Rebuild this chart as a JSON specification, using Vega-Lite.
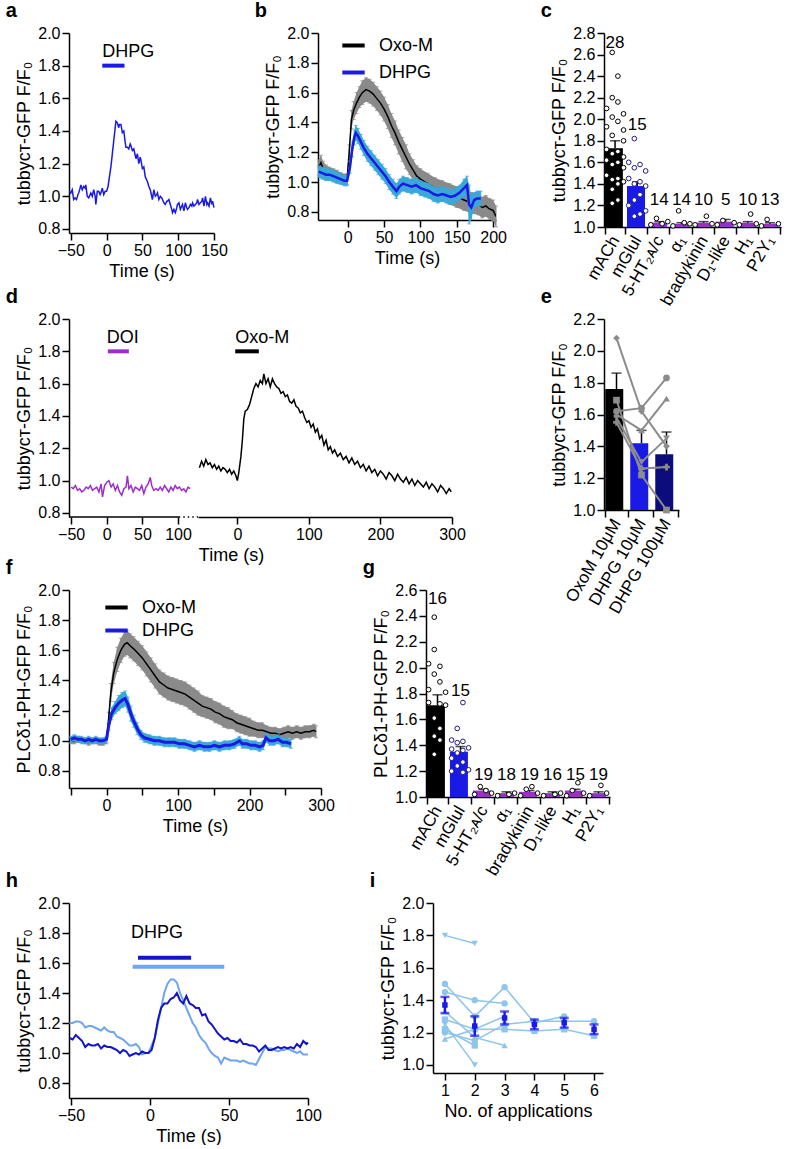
{
"$schema": "https://vega.github.io/schema/vega-lite/v6.json",
"padding": {"left": 5, "top": 1, "right": 0, "bottom": 0},
"background": "white",
"config": {
 "font": "Liberation Sans",
 "view": {"stroke": null},
 "axis": {"domainColor": "black", "domainWidth": 1.5, "tickColor": "black", "tickWidth": 1.5, "tickSize": 7, "labelColor": "black", "labelFontSize": 16, "labelPadding": 2, "titleColor": "black", "titleFontSize": 18, "titleFontWeight": "normal", "titlePadding": 4, "grid": false, "labelFlush": false, "labelOverlap": false},
 "title": {"fontSize": 20, "fontWeight": "bold", "anchor": "start", "frame": "bounds", "dx": -10, "offset": 4, "baseline": "bottom", "color": "black"},
 "legend": {"labelFontSize": 18, "labelColor": "black", "padding": 0},
 "text": {"color": "black"}
},
"datasets": {
 "a_tr": [{"t":-52,"v":1.03},{"t":-50,"v":1.02},{"t":-48,"v":1.04},{"t":-46,"v":0.98},{"t":-44,"v":0.99},{"t":-42,"v":0.98},{"t":-40,"v":1.01},{"t":-39,"v":1.02},{"t":-37,"v":1.05},{"t":-36,"v":1.07},{"t":-34,"v":1.04},{"t":-32,"v":1.06},{"t":-30,"v":1.05},{"t":-29,"v":1.07},{"t":-27,"v":1.0},{"t":-25,"v":0.99},{"t":-23,"v":1.01},{"t":-22,"v":1.02},{"t":-20,"v":1.0},{"t":-18,"v":1.04},{"t":-16,"v":1.0},{"t":-15,"v":0.95},{"t":-13,"v":1.03},{"t":-11,"v":1.03},{"t":-9,"v":1.01},{"t":-8,"v":1.02},{"t":-6,"v":1.05},{"t":-4,"v":1.01},{"t":-2,"v":1.03},{"t":0,"v":1.03},{"t":2,"v":1.06},{"t":4,"v":1.12},{"t":6,"v":1.18},{"t":8,"v":1.26},{"t":10,"v":1.34},{"t":12,"v":1.42},{"t":13,"v":1.46},{"t":15,"v":1.45},{"t":17,"v":1.42},{"t":18,"v":1.44},{"t":20,"v":1.44},{"t":22,"v":1.39},{"t":24,"v":1.4},{"t":26,"v":1.33},{"t":27,"v":1.3},{"t":29,"v":1.3},{"t":31,"v":1.29},{"t":33,"v":1.32},{"t":34,"v":1.31},{"t":36,"v":1.28},{"t":38,"v":1.29},{"t":40,"v":1.25},{"t":41,"v":1.23},{"t":43,"v":1.26},{"t":45,"v":1.2},{"t":47,"v":1.24},{"t":48,"v":1.22},{"t":50,"v":1.17},{"t":52,"v":1.18},{"t":54,"v":1.12},{"t":56,"v":1.1},{"t":57,"v":1.09},{"t":59,"v":1.06},{"t":61,"v":1.04},{"t":63,"v":1.0},{"t":64,"v":0.98},{"t":66,"v":1.04},{"t":68,"v":1.0},{"t":70,"v":1.01},{"t":71,"v":1.02},{"t":73,"v":0.98},{"t":75,"v":1.0},{"t":77,"v":0.99},{"t":78,"v":0.98},{"t":80,"v":0.96},{"t":82,"v":0.95},{"t":84,"v":0.97},{"t":85,"v":0.97},{"t":87,"v":0.98},{"t":89,"v":0.95},{"t":91,"v":0.92},{"t":92,"v":0.9},{"t":94,"v":0.92},{"t":96,"v":0.9},{"t":98,"v":0.93},{"t":99,"v":0.95},{"t":101,"v":0.96},{"t":103,"v":0.92},{"t":105,"v":0.94},{"t":106,"v":0.95},{"t":108,"v":0.91},{"t":110,"v":0.96},{"t":112,"v":0.93},{"t":113,"v":0.92},{"t":115,"v":0.93},{"t":117,"v":0.95},{"t":119,"v":0.94},{"t":120,"v":0.96},{"t":122,"v":0.94},{"t":124,"v":0.95},{"t":126,"v":0.96},{"t":127,"v":0.98},{"t":129,"v":0.95},{"t":131,"v":0.96},{"t":133,"v":0.97},{"t":134,"v":0.99},{"t":136,"v":0.94},{"t":138,"v":1.0},{"t":140,"v":0.95},{"t":141,"v":0.96},{"t":143,"v":0.94},{"t":145,"v":0.99},{"t":147,"v":0.95},{"t":148,"v":0.97},{"t":150,"v":0.93}],
 "a_bar": [{"t1":-6,"t2":25,"v":1.8}],
 "a_lab": [{"t":-6,"v":1.85,"s":"DHPG"}],
 "b_oxo": [{"t":-40,"m":1.1,"e":0.05},{"t":-37,"m":1.13,"e":0.05},{"t":-34,"m":1.09,"e":0.05},{"t":-30,"m":1.07,"e":0.045},{"t":-25,"m":1.06,"e":0.04},{"t":-20,"m":1.05,"e":0.04},{"t":-15,"m":1.04,"e":0.04},{"t":-10,"m":1.03,"e":0.035},{"t":-5,"m":1.02,"e":0.035},{"t":-1,"m":1.02,"e":0.035},{"t":2,"m":1.2,"e":0.05},{"t":5,"m":1.42,"e":0.06},{"t":8,"m":1.48,"e":0.06},{"t":12,"m":1.53,"e":0.07},{"t":16,"m":1.57,"e":0.07},{"t":20,"m":1.6,"e":0.08},{"t":25,"m":1.62,"e":0.08},{"t":30,"m":1.61,"e":0.08},{"t":35,"m":1.59,"e":0.08},{"t":40,"m":1.56,"e":0.08},{"t":45,"m":1.53,"e":0.08},{"t":50,"m":1.49,"e":0.08},{"t":55,"m":1.44,"e":0.08},{"t":60,"m":1.38,"e":0.08},{"t":65,"m":1.33,"e":0.08},{"t":70,"m":1.27,"e":0.08},{"t":75,"m":1.22,"e":0.08},{"t":80,"m":1.17,"e":0.08},{"t":85,"m":1.12,"e":0.07},{"t":90,"m":1.08,"e":0.07},{"t":95,"m":1.04,"e":0.07},{"t":100,"m":1.02,"e":0.07},{"t":110,"m":0.99,"e":0.07},{"t":120,"m":0.96,"e":0.07},{"t":130,"m":0.94,"e":0.07},{"t":140,"m":0.92,"e":0.07},{"t":150,"m":0.9,"e":0.07},{"t":160,"m":0.88,"e":0.07},{"t":170,"m":0.86,"e":0.07},{"t":180,"m":0.85,"e":0.07},{"t":185,"m":0.83,"e":0.07},{"t":190,"m":0.84,"e":0.07},{"t":195,"m":0.82,"e":0.07},{"t":200,"m":0.81,"e":0.07},{"t":204,"m":0.77,"e":0.07}],
 "b_dhpg": [{"t":-40,"m":1.07,"e":0.04},{"t":-35,"m":1.06,"e":0.04},{"t":-30,"m":1.05,"e":0.04},{"t":-25,"m":1.05,"e":0.04},{"t":-20,"m":1.04,"e":0.04},{"t":-15,"m":1.03,"e":0.04},{"t":-10,"m":1.02,"e":0.035},{"t":-5,"m":1.01,"e":0.035},{"t":-1,"m":1.01,"e":0.035},{"t":3,"m":1.1,"e":0.04},{"t":6,"m":1.22,"e":0.05},{"t":9,"m":1.3,"e":0.05},{"t":11,"m":1.33,"e":0.05},{"t":14,"m":1.31,"e":0.05},{"t":18,"m":1.27,"e":0.05},{"t":22,"m":1.23,"e":0.05},{"t":27,"m":1.19,"e":0.05},{"t":32,"m":1.16,"e":0.05},{"t":37,"m":1.13,"e":0.05},{"t":42,"m":1.1,"e":0.05},{"t":47,"m":1.07,"e":0.05},{"t":52,"m":1.04,"e":0.05},{"t":57,"m":1.0,"e":0.05},{"t":62,"m":0.97,"e":0.05},{"t":67,"m":0.94,"e":0.05},{"t":71,"m":0.97,"e":0.05},{"t":76,"m":0.99,"e":0.05},{"t":82,"m":0.98,"e":0.05},{"t":88,"m":0.97,"e":0.05},{"t":94,"m":0.98,"e":0.05},{"t":100,"m":0.96,"e":0.05},{"t":106,"m":0.95,"e":0.05},{"t":112,"m":0.94,"e":0.05},{"t":118,"m":0.92,"e":0.05},{"t":124,"m":0.91,"e":0.05},{"t":130,"m":0.92,"e":0.05},{"t":136,"m":0.91,"e":0.05},{"t":142,"m":0.9,"e":0.05},{"t":148,"m":0.91,"e":0.05},{"t":154,"m":0.93,"e":0.05},{"t":160,"m":0.96,"e":0.06},{"t":164,"m":0.98,"e":0.06},{"t":167,"m":0.85,"e":0.13},{"t":170,"m":0.83,"e":0.08},{"t":174,"m":0.88,"e":0.05},{"t":178,"m":0.89,"e":0.05},{"t":183,"m":0.89,"e":0.05}],
 "c_bar": [{"cat":"mACh","m":1.73,"hi":1.8},{"cat":"mGlul","m":1.38,"hi":1.42},{"cat":"5-HT₂ᴀ/ᴄ","m":1.04,"hi":1.05},{"cat":"α₁","m":1.03,"hi":1.04},{"cat":"bradykinin","m":1.04,"hi":1.05},{"cat":"D₁-like","m":1.05,"hi":1.07},{"cat":"H₁","m":1.04,"hi":1.05},{"cat":"P2Y₁","m":1.03,"hi":1.04}],
 "c_pts": [{"cat":"mACh","v":2.62,"j":1},{"cat":"mACh","v":2.4,"j":2},{"cat":"mACh","v":2.2,"j":1},{"cat":"mACh","v":2.16,"j":2},{"cat":"mACh","v":2.1,"j":0},{"cat":"mACh","v":2.05,"j":3},{"cat":"mACh","v":2.02,"j":1},{"cat":"mACh","v":1.98,"j":2},{"cat":"mACh","v":1.93,"j":0},{"cat":"mACh","v":1.9,"j":3},{"cat":"mACh","v":1.85,"j":1},{"cat":"mACh","v":1.8,"j":3},{"cat":"mACh","v":1.72,"j":0},{"cat":"mACh","v":1.7,"j":2},{"cat":"mACh","v":1.68,"j":1},{"cat":"mACh","v":1.65,"j":3},{"cat":"mACh","v":1.62,"j":0},{"cat":"mACh","v":1.6,"j":2},{"cat":"mACh","v":1.58,"j":1},{"cat":"mACh","v":1.55,"j":3},{"cat":"mACh","v":1.48,"j":0},{"cat":"mACh","v":1.45,"j":2},{"cat":"mACh","v":1.44,"j":1},{"cat":"mACh","v":1.42,"j":3},{"cat":"mACh","v":1.4,"j":2},{"cat":"mACh","v":1.35,"j":1},{"cat":"mACh","v":1.25,"j":2},{"cat":"mACh","v":1.22,"j":1},
  {"cat":"mGlul","v":1.82,"j":1},{"cat":"mGlul","v":1.6,"j":0},{"cat":"mGlul","v":1.58,"j":2},{"cat":"mGlul","v":1.55,"j":1},{"cat":"mGlul","v":1.52,"j":3},{"cat":"mGlul","v":1.45,"j":0},{"cat":"mGlul","v":1.42,"j":2},{"cat":"mGlul","v":1.4,"j":1},{"cat":"mGlul","v":1.38,"j":3},{"cat":"mGlul","v":1.3,"j":2},{"cat":"mGlul","v":1.25,"j":1},{"cat":"mGlul","v":1.2,"j":0},{"cat":"mGlul","v":1.15,"j":3},{"cat":"mGlul","v":1.12,"j":2},{"cat":"mGlul","v":1.1,"j":1},
  {"cat":"5-HT₂ᴀ/ᴄ","v":1.02,"j":0},{"cat":"5-HT₂ᴀ/ᴄ","v":1.03,"j":2},{"cat":"5-HT₂ᴀ/ᴄ","v":1.05,"j":3},{"cat":"5-HT₂ᴀ/ᴄ","v":1.08,"j":1},
  {"cat":"α₁","v":1.01,"j":0},{"cat":"α₁","v":1.03,"j":3},{"cat":"α₁","v":1.04,"j":2},{"cat":"α₁","v":1.15,"j":1},
  {"cat":"bradykinin","v":1.02,"j":0},{"cat":"bradykinin","v":1.03,"j":3},{"cat":"bradykinin","v":1.1,"j":2},
  {"cat":"D₁-like","v":1.02,"j":0},{"cat":"D₁-like","v":1.04,"j":3},{"cat":"D₁-like","v":1.06,"j":1},
  {"cat":"H₁","v":1.02,"j":0},{"cat":"H₁","v":1.03,"j":3},{"cat":"H₁","v":1.12,"j":2},
  {"cat":"P2Y₁","v":1.01,"j":0},{"cat":"P2Y₁","v":1.03,"j":3},{"cat":"P2Y₁","v":1.07,"j":1}],
 "c_n": [{"cat":"mACh","n":"28","v":2.66},{"cat":"mGlul","n":"15","v":1.9},{"cat":"5-HT₂ᴀ/ᴄ","n":"14","v":1.2},{"cat":"α₁","n":"14","v":1.2},{"cat":"bradykinin","n":"10","v":1.2},{"cat":"D₁-like","n":"5","v":1.2},{"cat":"H₁","n":"10","v":1.2},{"cat":"P2Y₁","n":"13","v":1.2}],
 "d1_tr": [{"t":-50,"v":0.96},{"t":-47,"v":0.95},{"t":-44,"v":0.97},{"t":-41,"v":0.94},{"t":-38,"v":0.95},{"t":-35,"v":0.93},{"t":-32,"v":0.94},{"t":-29,"v":0.96},{"t":-26,"v":0.95},{"t":-23,"v":0.97},{"t":-20,"v":0.94},{"t":-17,"v":0.95},{"t":-14,"v":0.96},{"t":-11,"v":0.93},{"t":-8,"v":0.98},{"t":-6,"v":0.9},{"t":-3,"v":0.97},{"t":0,"v":0.99},{"t":3,"v":1.0},{"t":6,"v":0.96},{"t":9,"v":0.98},{"t":12,"v":0.94},{"t":15,"v":0.97},{"t":18,"v":0.93},{"t":21,"v":0.91},{"t":24,"v":0.95},{"t":27,"v":0.96},{"t":29,"v":1.03},{"t":31,"v":0.95},{"t":34,"v":0.97},{"t":37,"v":0.93},{"t":40,"v":0.96},{"t":43,"v":0.95},{"t":46,"v":0.94},{"t":49,"v":0.97},{"t":52,"v":0.92},{"t":55,"v":0.96},{"t":58,"v":0.98},{"t":61,"v":1.02},{"t":63,"v":0.97},{"t":66,"v":0.94},{"t":69,"v":0.95},{"t":72,"v":0.94},{"t":75,"v":0.96},{"t":78,"v":0.94},{"t":81,"v":0.97},{"t":84,"v":0.95},{"t":87,"v":0.93},{"t":90,"v":0.96},{"t":93,"v":0.94},{"t":96,"v":0.97},{"t":99,"v":0.95},{"t":102,"v":0.96},{"t":105,"v":0.94},{"t":108,"v":0.95},{"t":111,"v":0.93},{"t":114,"v":0.96},{"t":117,"v":0.95}],
 "d1_ax": [{"t1":-53,"t2":101,"t3":128,"v":0.775}],
 "d1_bar": [{"t1":1.5,"t2":31,"v":1.8}],
 "d1_lab": [{"t":0,"v":1.85,"s":"DOI"}],
 "d2_tr": [{"t":-53,"v":1.08},{"t":-50,"v":1.12},{"t":-47,"v":1.09},{"t":-44,"v":1.13},{"t":-41,"v":1.1},{"t":-38,"v":1.11},{"t":-35,"v":1.08},{"t":-32,"v":1.1},{"t":-29,"v":1.07},{"t":-26,"v":1.09},{"t":-23,"v":1.06},{"t":-20,"v":1.08},{"t":-17,"v":1.07},{"t":-14,"v":1.05},{"t":-11,"v":1.07},{"t":-8,"v":1.04},{"t":-5,"v":1.06},{"t":-2,"v":1.03},{"t":0,"v":1.0},{"t":2,"v":1.05},{"t":5,"v":1.15},{"t":7,"v":1.25},{"t":9,"v":1.38},{"t":11,"v":1.43},{"t":14,"v":1.44},{"t":17,"v":1.47},{"t":20,"v":1.52},{"t":23,"v":1.57},{"t":26,"v":1.6},{"t":29,"v":1.58},{"t":32,"v":1.62},{"t":35,"v":1.6},{"t":37,"v":1.66},{"t":40,"v":1.6},{"t":43,"v":1.63},{"t":46,"v":1.58},{"t":49,"v":1.63},{"t":52,"v":1.6},{"t":55,"v":1.58},{"t":58,"v":1.57},{"t":61,"v":1.54},{"t":64,"v":1.55},{"t":67,"v":1.52},{"t":70,"v":1.53},{"t":73,"v":1.49},{"t":76,"v":1.48},{"t":79,"v":1.5},{"t":82,"v":1.46},{"t":85,"v":1.45},{"t":88,"v":1.42},{"t":91,"v":1.43},{"t":94,"v":1.39},{"t":97,"v":1.36},{"t":100,"v":1.37},{"t":103,"v":1.33},{"t":106,"v":1.35},{"t":109,"v":1.3},{"t":112,"v":1.32},{"t":115,"v":1.26},{"t":118,"v":1.28},{"t":121,"v":1.22},{"t":124,"v":1.25},{"t":127,"v":1.19},{"t":130,"v":1.21},{"t":133,"v":1.17},{"t":136,"v":1.19},{"t":140,"v":1.15},{"t":144,"v":1.17},{"t":148,"v":1.13},{"t":152,"v":1.15},{"t":156,"v":1.11},{"t":160,"v":1.14},{"t":164,"v":1.1},{"t":168,"v":1.12},{"t":172,"v":1.08},{"t":176,"v":1.1},{"t":180,"v":1.06},{"t":184,"v":1.09},{"t":188,"v":1.05},{"t":192,"v":1.07},{"t":196,"v":1.03},{"t":200,"v":1.06},{"t":204,"v":1.04},{"t":208,"v":1.01},{"t":212,"v":1.05},{"t":216,"v":1.03},{"t":220,"v":1.0},{"t":224,"v":1.04},{"t":228,"v":1.01},{"t":232,"v":0.99},{"t":236,"v":1.02},{"t":240,"v":0.98},{"t":244,"v":1.01},{"t":248,"v":0.97},{"t":252,"v":1.0},{"t":256,"v":0.98},{"t":260,"v":0.96},{"t":264,"v":0.99},{"t":268,"v":0.95},{"t":272,"v":0.98},{"t":276,"v":0.96},{"t":280,"v":0.93},{"t":284,"v":0.97},{"t":288,"v":0.95},{"t":292,"v":0.92},{"t":296,"v":0.95},{"t":299,"v":0.93}],
 "d2_bar": [{"t1":-3,"t2":30,"v":1.8}],
 "d2_lab": [{"t":-3,"v":1.85,"s":"Oxo-M"}],
 "e_bar": [{"cond":"OxoM 10μM","m":1.76,"hi":1.86},{"cond":"DHPG 10μM","m":1.42,"hi":1.5},{"cond":"DHPG 100μM","m":1.35,"hi":1.49}],
 "e_cells": [{"cell":"c1","k":1,"cond":"OxoM 10μM","v":2.08},{"cell":"c1","k":2,"cond":"DHPG 10μM","v":1.62},{"cell":"c1","k":3,"cond":"DHPG 100μM","v":1.4},
  {"cell":"c2","k":1,"cond":"OxoM 10μM","v":1.69},{"cell":"c2","k":2,"cond":"DHPG 10μM","v":1.22},{"cell":"c2","k":3,"cond":"DHPG 100μM","v":1.0},
  {"cell":"c3","k":1,"cond":"OxoM 10μM","v":1.62},{"cell":"c3","k":2,"cond":"DHPG 10μM","v":1.64},{"cell":"c3","k":3,"cond":"DHPG 100μM","v":1.83},
  {"cell":"c4","k":1,"cond":"OxoM 10μM","v":1.6},{"cell":"c4","k":2,"cond":"DHPG 10μM","v":1.5},{"cell":"c4","k":3,"cond":"DHPG 100μM","v":1.7},
  {"cell":"c5","k":1,"cond":"OxoM 10μM","v":1.58},{"cell":"c5","k":2,"cond":"DHPG 10μM","v":1.3},{"cell":"c5","k":3,"cond":"DHPG 100μM","v":1.45},
  {"cell":"c6","k":1,"cond":"OxoM 10μM","v":1.55},{"cell":"c6","k":2,"cond":"DHPG 10μM","v":1.26},{"cell":"c6","k":3,"cond":"DHPG 100μM","v":1.27}],
 "f_oxo": [{"t":-50,"m":1.0,"e":0.02},{"t":-45,"m":1.0,"e":0.02},{"t":-40,"m":1.01,"e":0.02},{"t":-35,"m":1.0,"e":0.02},{"t":-30,"m":1.0,"e":0.02},{"t":-25,"m":0.99,"e":0.02},{"t":-20,"m":1.0,"e":0.02},{"t":-15,"m":1.0,"e":0.02},{"t":-10,"m":0.99,"e":0.02},{"t":-5,"m":0.99,"e":0.02},{"t":0,"m":1.0,"e":0.02},{"t":3,"m":1.15,"e":0.04},{"t":6,"m":1.32,"e":0.06},{"t":10,"m":1.45,"e":0.07},{"t":15,"m":1.54,"e":0.08},{"t":20,"m":1.6,"e":0.08},{"t":25,"m":1.64,"e":0.08},{"t":29,"m":1.65,"e":0.08},{"t":33,"m":1.63,"e":0.08},{"t":38,"m":1.61,"e":0.08},{"t":44,"m":1.58,"e":0.08},{"t":50,"m":1.55,"e":0.08},{"t":56,"m":1.51,"e":0.08},{"t":62,"m":1.47,"e":0.08},{"t":68,"m":1.43,"e":0.08},{"t":74,"m":1.39,"e":0.08},{"t":80,"m":1.37,"e":0.08},{"t":86,"m":1.35,"e":0.08},{"t":92,"m":1.34,"e":0.08},{"t":98,"m":1.33,"e":0.08},{"t":104,"m":1.32,"e":0.08},{"t":110,"m":1.31,"e":0.08},{"t":116,"m":1.29,"e":0.08},{"t":122,"m":1.27,"e":0.08},{"t":128,"m":1.25,"e":0.08},{"t":134,"m":1.23,"e":0.07},{"t":140,"m":1.22,"e":0.07},{"t":146,"m":1.21,"e":0.07},{"t":152,"m":1.19,"e":0.07},{"t":158,"m":1.18,"e":0.07},{"t":164,"m":1.16,"e":0.07},{"t":170,"m":1.15,"e":0.07},{"t":176,"m":1.14,"e":0.06},{"t":182,"m":1.12,"e":0.06},{"t":188,"m":1.11,"e":0.06},{"t":194,"m":1.1,"e":0.06},{"t":200,"m":1.09,"e":0.06},{"t":206,"m":1.08,"e":0.05},{"t":212,"m":1.07,"e":0.05},{"t":218,"m":1.07,"e":0.05},{"t":224,"m":1.06,"e":0.04},{"t":230,"m":1.05,"e":0.04},{"t":236,"m":1.05,"e":0.04},{"t":242,"m":1.04,"e":0.04},{"t":248,"m":1.05,"e":0.04},{"t":254,"m":1.06,"e":0.04},{"t":260,"m":1.05,"e":0.04},{"t":266,"m":1.06,"e":0.04},{"t":272,"m":1.05,"e":0.04},{"t":278,"m":1.06,"e":0.04},{"t":284,"m":1.06,"e":0.04},{"t":290,"m":1.07,"e":0.04},{"t":293,"m":1.06,"e":0.04}],
 "f_dhpg": [{"t":-50,"m":1.01,"e":0.02},{"t":-45,"m":1.02,"e":0.02},{"t":-40,"m":1.01,"e":0.02},{"t":-35,"m":1.01,"e":0.02},{"t":-30,"m":1.0,"e":0.02},{"t":-25,"m":1.01,"e":0.02},{"t":-20,"m":1.0,"e":0.02},{"t":-15,"m":1.01,"e":0.02},{"t":-10,"m":1.0,"e":0.02},{"t":-5,"m":1.0,"e":0.02},{"t":0,"m":1.01,"e":0.02},{"t":3,"m":1.1,"e":0.03},{"t":7,"m":1.18,"e":0.04},{"t":12,"m":1.22,"e":0.04},{"t":17,"m":1.25,"e":0.05},{"t":22,"m":1.27,"e":0.05},{"t":26,"m":1.28,"e":0.05},{"t":30,"m":1.24,"e":0.05},{"t":34,"m":1.18,"e":0.05},{"t":38,"m":1.13,"e":0.04},{"t":43,"m":1.08,"e":0.04},{"t":48,"m":1.04,"e":0.03},{"t":53,"m":1.02,"e":0.03},{"t":60,"m":1.01,"e":0.03},{"t":67,"m":1.0,"e":0.03},{"t":74,"m":1.0,"e":0.03},{"t":81,"m":0.99,"e":0.03},{"t":88,"m":0.99,"e":0.03},{"t":95,"m":0.99,"e":0.03},{"t":102,"m":0.98,"e":0.03},{"t":109,"m":0.98,"e":0.03},{"t":116,"m":0.97,"e":0.03},{"t":123,"m":0.96,"e":0.03},{"t":130,"m":0.97,"e":0.03},{"t":137,"m":0.96,"e":0.03},{"t":144,"m":0.96,"e":0.03},{"t":151,"m":0.97,"e":0.03},{"t":158,"m":0.96,"e":0.03},{"t":165,"m":0.97,"e":0.03},{"t":172,"m":0.97,"e":0.03},{"t":179,"m":0.98,"e":0.03},{"t":186,"m":1.0,"e":0.03},{"t":190,"m":0.98,"e":0.03},{"t":196,"m":0.98,"e":0.03},{"t":202,"m":0.97,"e":0.03},{"t":208,"m":0.97,"e":0.03},{"t":214,"m":0.96,"e":0.03},{"t":219,"m":0.97,"e":0.03},{"t":223,"m":1.02,"e":0.03},{"t":228,"m":1.0,"e":0.03},{"t":234,"m":1.0,"e":0.03},{"t":240,"m":1.01,"e":0.03},{"t":246,"m":0.99,"e":0.03},{"t":252,"m":0.99,"e":0.03},{"t":258,"m":0.98,"e":0.03}],
 "g_bar": [{"cat":"mACh","m":1.71,"hi":1.79},{"cat":"mGlul","m":1.35,"hi":1.39},{"cat":"5-HT₂ᴀ/ᴄ","m":1.05,"hi":1.06},{"cat":"α₁","m":1.03,"hi":1.04},{"cat":"bradykinin","m":1.04,"hi":1.05},{"cat":"D₁-like","m":1.03,"hi":1.04},{"cat":"H₁","m":1.05,"hi":1.06},{"cat":"P2Y₁","m":1.03,"hi":1.04}],
 "g_pts": [{"cat":"mACh","v":2.39,"j":1},{"cat":"mACh","v":2.14,"j":1},{"cat":"mACh","v":2.03,"j":0},{"cat":"mACh","v":2.01,"j":2},{"cat":"mACh","v":1.95,"j":1},{"cat":"mACh","v":1.89,"j":2},{"cat":"mACh","v":1.83,"j":0},{"cat":"mACh","v":1.81,"j":3},{"cat":"mACh","v":1.73,"j":0},{"cat":"mACh","v":1.72,"j":2},{"cat":"mACh","v":1.71,"j":3},{"cat":"mACh","v":1.61,"j":1},{"cat":"mACh","v":1.53,"j":2},{"cat":"mACh","v":1.47,"j":1},{"cat":"mACh","v":1.44,"j":2},{"cat":"mACh","v":1.33,"j":1},
  {"cat":"mGlul","v":1.73,"j":2},{"cat":"mGlul","v":1.53,"j":1},{"cat":"mGlul","v":1.44,"j":0},{"cat":"mGlul","v":1.43,"j":2},{"cat":"mGlul","v":1.42,"j":1},{"cat":"mGlul","v":1.38,"j":3},{"cat":"mGlul","v":1.37,"j":0},{"cat":"mGlul","v":1.36,"j":2},{"cat":"mGlul","v":1.34,"j":1},{"cat":"mGlul","v":1.3,"j":0},{"cat":"mGlul","v":1.27,"j":2},{"cat":"mGlul","v":1.24,"j":1},{"cat":"mGlul","v":1.21,"j":3},{"cat":"mGlul","v":1.2,"j":0},{"cat":"mGlul","v":1.19,"j":2},
  {"cat":"5-HT₂ᴀ/ᴄ","v":1.02,"j":0},{"cat":"5-HT₂ᴀ/ᴄ","v":1.03,"j":3},{"cat":"5-HT₂ᴀ/ᴄ","v":1.05,"j":2},{"cat":"5-HT₂ᴀ/ᴄ","v":1.08,"j":1},
  {"cat":"α₁","v":1.01,"j":0},{"cat":"α₁","v":1.02,"j":2},{"cat":"α₁","v":1.03,"j":3},
  {"cat":"bradykinin","v":1.01,"j":0},{"cat":"bradykinin","v":1.03,"j":3},{"cat":"bradykinin","v":1.06,"j":1},{"cat":"bradykinin","v":1.08,"j":2},
  {"cat":"D₁-like","v":1.01,"j":0},{"cat":"D₁-like","v":1.02,"j":2},{"cat":"D₁-like","v":1.03,"j":3},
  {"cat":"H₁","v":1.01,"j":0},{"cat":"H₁","v":1.03,"j":3},{"cat":"H₁","v":1.05,"j":1},{"cat":"H₁","v":1.11,"j":2},
  {"cat":"P2Y₁","v":1.01,"j":0},{"cat":"P2Y₁","v":1.03,"j":3},{"cat":"P2Y₁","v":1.09,"j":2}],
 "g_n": [{"cat":"mACh","n":"16","v":2.49},{"cat":"mGlul","n":"15","v":1.78},{"cat":"5-HT₂ᴀ/ᴄ","n":"19","v":1.13},{"cat":"α₁","n":"18","v":1.13},{"cat":"bradykinin","n":"19","v":1.13},{"cat":"D₁-like","n":"16","v":1.13},{"cat":"H₁","n":"15","v":1.13},{"cat":"P2Y₁","n":"19","v":1.13}],
 "h_dark": [{"t":-51,"v":1.1},{"t":-49,"v":1.09},{"t":-47,"v":1.12},{"t":-45,"v":1.1},{"t":-43,"v":1.08},{"t":-41,"v":1.04},{"t":-39,"v":1.06},{"t":-37,"v":1.05},{"t":-35,"v":1.05},{"t":-33,"v":1.06},{"t":-31,"v":1.03},{"t":-29,"v":1.05},{"t":-27,"v":1.04},{"t":-25,"v":1.04},{"t":-23,"v":1.03},{"t":-21,"v":1.02},{"t":-19,"v":1.0},{"t":-17,"v":1.02},{"t":-15,"v":1.01},{"t":-13,"v":0.98},{"t":-11,"v":0.99},{"t":-9,"v":1.0},{"t":-7,"v":0.99},{"t":-5,"v":1.01},{"t":-3,"v":1.0},{"t":-1,"v":1.0},{"t":1,"v":1.02},{"t":3,"v":1.1},{"t":5,"v":1.22},{"t":7,"v":1.3},{"t":9,"v":1.33},{"t":11,"v":1.33},{"t":13,"v":1.36},{"t":15,"v":1.37},{"t":17,"v":1.4},{"t":19,"v":1.35},{"t":21,"v":1.33},{"t":23,"v":1.38},{"t":25,"v":1.33},{"t":27,"v":1.32},{"t":29,"v":1.3},{"t":31,"v":1.3},{"t":33,"v":1.25},{"t":35,"v":1.26},{"t":37,"v":1.21},{"t":39,"v":1.19},{"t":41,"v":1.16},{"t":43,"v":1.13},{"t":45,"v":1.11},{"t":47,"v":1.09},{"t":49,"v":1.1},{"t":51,"v":1.08},{"t":53,"v":1.08},{"t":55,"v":1.07},{"t":57,"v":1.09},{"t":59,"v":1.06},{"t":61,"v":1.06},{"t":63,"v":1.05},{"t":65,"v":1.05},{"t":67,"v":1.04},{"t":69,"v":1.01},{"t":71,"v":1.03},{"t":73,"v":1.05},{"t":75,"v":1.02},{"t":77,"v":1.02},{"t":79,"v":1.03},{"t":81,"v":1.04},{"t":83,"v":1.03},{"t":85,"v":1.04},{"t":87,"v":1.03},{"t":89,"v":1.04},{"t":91,"v":1.03},{"t":93,"v":1.06},{"t":95,"v":1.04},{"t":97,"v":1.08},{"t":99,"v":1.06},{"t":100,"v":1.07}],
 "h_light": [{"t":-51,"v":1.2},{"t":-49,"v":1.2},{"t":-47,"v":1.21},{"t":-45,"v":1.21},{"t":-43,"v":1.2},{"t":-41,"v":1.17},{"t":-39,"v":1.18},{"t":-37,"v":1.18},{"t":-35,"v":1.17},{"t":-33,"v":1.16},{"t":-31,"v":1.15},{"t":-29,"v":1.17},{"t":-27,"v":1.15},{"t":-25,"v":1.14},{"t":-23,"v":1.14},{"t":-21,"v":1.11},{"t":-19,"v":1.1},{"t":-17,"v":1.09},{"t":-15,"v":1.07},{"t":-13,"v":1.05},{"t":-11,"v":1.05},{"t":-9,"v":1.06},{"t":-7,"v":1.04},{"t":-5,"v":0.99},{"t":-3,"v":1.0},{"t":-1,"v":1.0},{"t":1,"v":1.05},{"t":3,"v":1.1},{"t":5,"v":1.2},{"t":7,"v":1.3},{"t":9,"v":1.4},{"t":11,"v":1.46},{"t":13,"v":1.49},{"t":15,"v":1.49},{"t":17,"v":1.47},{"t":19,"v":1.4},{"t":21,"v":1.35},{"t":23,"v":1.3},{"t":25,"v":1.25},{"t":27,"v":1.2},{"t":29,"v":1.17},{"t":31,"v":1.12},{"t":33,"v":1.09},{"t":35,"v":1.07},{"t":37,"v":1.03},{"t":39,"v":1.0},{"t":41,"v":0.98},{"t":43,"v":0.97},{"t":45,"v":0.93},{"t":47,"v":0.97},{"t":49,"v":0.96},{"t":51,"v":0.95},{"t":53,"v":0.95},{"t":55,"v":0.95},{"t":57,"v":0.94},{"t":59,"v":0.95},{"t":61,"v":0.94},{"t":63,"v":0.93},{"t":65,"v":0.93},{"t":67,"v":0.92},{"t":69,"v":0.96},{"t":71,"v":1.0},{"t":73,"v":1.04},{"t":75,"v":1.03},{"t":77,"v":1.03},{"t":79,"v":1.02},{"t":81,"v":1.01},{"t":83,"v":1.02},{"t":85,"v":1.02},{"t":87,"v":1.03},{"t":89,"v":1.02},{"t":91,"v":1.01},{"t":93,"v":1.0},{"t":95,"v":1.01},{"t":97,"v":0.99},{"t":100,"v":0.99}],
 "h_bar_light": [{"t1":-11,"t2":47,"v":1.575}],
 "h_bar_dark": [{"t1":-7.6,"t2":26,"v":1.635}],
 "h_lab": [{"t":-12,"v":1.77,"s":"DHPG"}],
 "i_cells": [{"cell":"k1","app":1,"v":1.8},{"cell":"k1","app":2,"v":1.75},
  {"cell":"k2","app":1,"v":1.5},{"cell":"k2","app":2,"v":1.3},{"cell":"k2","app":3,"v":1.48},{"cell":"k2","app":4,"v":1.26},{"cell":"k2","app":5,"v":1.3},
  {"cell":"k3","app":1,"v":1.45},{"cell":"k3","app":2,"v":1.4},{"cell":"k3","app":3,"v":1.38},
  {"cell":"k4","app":1,"v":1.33},{"cell":"k4","app":2,"v":1.17},{"cell":"k4","app":3,"v":1.12},
  {"cell":"k5","app":1,"v":1.25},{"cell":"k5","app":2,"v":1.0},
  {"cell":"k6","app":1,"v":1.28},{"cell":"k6","app":2,"v":1.22},{"cell":"k6","app":3,"v":1.22},{"cell":"k6","app":4,"v":1.21},{"cell":"k6","app":5,"v":1.22},{"cell":"k6","app":6,"v":1.18},
  {"cell":"k7","app":1,"v":1.2},{"cell":"k7","app":2,"v":1.15},{"cell":"k7","app":3,"v":1.25},{"cell":"k7","app":4,"v":1.27},{"cell":"k7","app":5,"v":1.27},{"cell":"k7","app":6,"v":1.27},
  {"cell":"k8","app":1,"v":1.16},{"cell":"k8","app":2,"v":1.22},{"cell":"k8","app":3,"v":1.3},
  {"cell":"k9","app":1,"v":1.22},{"cell":"k9","app":2,"v":1.12}],
 "i_mean": [{"app":1,"m":1.37,"e":0.05},{"app":2,"m":1.24,"e":0.06},{"app":3,"m":1.29,"e":0.04},{"app":4,"m":1.25,"e":0.03},{"app":5,"m":1.26,"e":0.03},{"app":6,"m":1.22,"e":0.03}]
},
"resolve": {"scale": {"color": "independent", "stroke": "independent", "shape": "independent"}, "legend": {"color": "independent", "stroke": "independent", "shape": "independent"}},
"bounds": "flush",
"spacing": 286,
"vconcat": [
 {"hconcat": [
   {"hconcat": [
     {"title": {"text": "a"}, "width": 145, "height": 200,
      "layer": [
       {"data": {"name": "a_tr"}, "mark": {"type": "line", "color": "#1a1ae6", "strokeWidth": 1.5},
        "encoding": {"x": {"field": "t", "type": "quantitative", "scale": {"domain": [-52.5, 150], "nice": false, "zero": false}, "axis": {"values": [-50, 0, 50, 100, 150], "tickCount": 40, "title": "Time (s)"}},
                     "y": {"field": "v", "type": "quantitative", "scale": {"domain": [0.775, 2.0], "nice": false, "zero": false}, "axis": {"values": [0.8, 1.0, 1.2, 1.4, 1.6, 1.8, 2.0], "tickCount": 40, "format": ".1f", "title": "tubbyᴄᴛ-GFP F/F₀"}}}},
       {"data": {"name": "a_bar"}, "mark": {"type": "rule", "color": "#1a1ae6", "strokeWidth": 4},
        "encoding": {"x": {"field": "t1", "type": "quantitative"}, "x2": {"field": "t2"}, "y": {"field": "v", "type": "quantitative"}}},
       {"data": {"name": "a_lab"}, "mark": {"type": "text", "align": "left", "baseline": "alphabetic", "fontSize": 18},
        "encoding": {"x": {"field": "t", "type": "quantitative"}, "y": {"field": "v", "type": "quantitative"}, "text": {"field": "s"}}}
      ]},
     {"title": {"text": "b"}, "width": 178, "height": 187,
      "layer": [
       {"data": {"name": "b_oxo"}, "mark": {"type": "errorband", "color": "#8a8a8a", "band": {"opacity": 1}},
        "encoding": {"x": {"field": "t", "type": "quantitative", "title": "Time (s)", "scale": {"domain": [-41, 204], "nice": false, "zero": false}, "axis": {"values": [0, 50, 100, 150, 200], "tickCount": 40}},
                     "y": {"field": "m", "type": "quantitative", "title": "tubbyᴄᴛ-GFP F/F₀", "scale": {"domain": [0.746, 2.0], "nice": false, "zero": false}, "axis": {"values": [0.8, 1.0, 1.2, 1.4, 1.6, 1.8, 2.0], "tickCount": 40, "format": ".1f"}},
                     "yError": {"field": "e"}}},
       {"data": {"name": "b_oxo"}, "mark": {"type": "errorbar", "color": "#8a8a8a", "thickness": 1, "ticks": {"size": 4}},
        "encoding": {"x": {"field": "t", "type": "quantitative", "title": "Time (s)"}, "y": {"field": "m", "type": "quantitative", "title": "tubbyᴄᴛ-GFP F/F₀"}, "yError": {"field": "e"}}},
       {"data": {"name": "b_oxo"}, "mark": {"type": "line", "strokeWidth": 1.5, "clip": true},
        "encoding": {"x": {"field": "t", "type": "quantitative", "title": "Time (s)"}, "y": {"field": "m", "type": "quantitative", "title": "tubbyᴄᴛ-GFP F/F₀"},
                     "color": {"datum": "Oxo-M", "type": "nominal", "scale": {"domain": ["Oxo-M", "DHPG"], "range": ["black", "#1a1ae6"]},
                               "legend": {"orient": "none", "legendX": 22, "legendY": -1, "title": null, "rowPadding": 4, "labelOffset": 12, "symbolSize": 500, "symbolStrokeWidth": 4, "symbolType": "stroke", "labelFontSize": 18}}}},
       {"data": {"name": "b_dhpg"}, "mark": {"type": "errorband", "color": "#3aa8d8", "band": {"opacity": 1}},
        "encoding": {"x": {"field": "t", "type": "quantitative", "title": "Time (s)"}, "y": {"field": "m", "type": "quantitative", "title": "tubbyᴄᴛ-GFP F/F₀"}, "yError": {"field": "e"}}},
       {"data": {"name": "b_dhpg"}, "mark": {"type": "errorbar", "color": "#3aa8d8", "thickness": 1, "ticks": {"size": 4}},
        "encoding": {"x": {"field": "t", "type": "quantitative", "title": "Time (s)"}, "y": {"field": "m", "type": "quantitative", "title": "tubbyᴄᴛ-GFP F/F₀"}, "yError": {"field": "e"}}},
       {"data": {"name": "b_dhpg"}, "mark": {"type": "line", "strokeWidth": 2.5, "clip": true},
        "encoding": {"x": {"field": "t", "type": "quantitative", "title": "Time (s)"}, "y": {"field": "m", "type": "quantitative", "title": "tubbyᴄᴛ-GFP F/F₀"}, "color": {"datum": "DHPG", "type": "nominal"}}}
      ]}
   ], "spacing": 104, "bounds": "flush", "resolve": {"scale": {"color": "independent"}, "legend": {"color": "independent"}}},
   {"title": {"text": "c"}, "width": 177, "height": 194,
    "layer": [
     {"data": {"name": "c_bar"}, "mark": {"type": "bar"},
      "encoding": {"x": {"field": "cat", "type": "nominal", "sort": null, "scale": {"domain": ["mACh", "mGlul", "5-HT₂ᴀ/ᴄ", "α₁", "bradykinin", "D₁-like", "H₁", "P2Y₁"], "paddingInner": 0.08, "paddingOuter": 0.04},
                         "axis": {"title": null, "labelAngle": -60, "labelAlign": "right", "labelBaseline": "middle", "tickBand": "extent", "labelFontSize": 17, "labelPadding": 3}},
                   "y": {"field": "m", "type": "quantitative", "scale": {"domain": [1.0, 2.8], "nice": false, "zero": false}, "axis": {"values": [1.0, 1.2, 1.4, 1.6, 1.8, 2.0, 2.2, 2.4, 2.6, 2.8], "tickCount": 40, "format": ".1f", "title": "tubbyᴄᴛ-GFP F/F₀"}},
                   "y2": {"datum": 1.0},
                   "color": {"field": "cat", "type": "nominal", "scale": {"domain": ["mACh", "mGlul", "5-HT₂ᴀ/ᴄ", "α₁", "bradykinin", "D₁-like", "H₁", "P2Y₁"], "range": ["black", "#1a1ae6", "#9c2fc9", "#9c2fc9", "#9c2fc9", "#9c2fc9", "#9c2fc9", "#9c2fc9"]}, "legend": null}}},
     {"data": {"name": "c_bar"}, "mark": {"type": "rule", "color": "black", "strokeWidth": 1.5},
      "encoding": {"x": {"field": "cat", "type": "nominal"}, "y": {"field": "m", "type": "quantitative"}, "y2": {"field": "hi"}}},
     {"data": {"name": "c_bar"}, "mark": {"type": "tick", "color": "black", "thickness": 1.5, "size": 10},
      "encoding": {"x": {"field": "cat", "type": "nominal"}, "y": {"field": "hi", "type": "quantitative"}}},
     {"data": {"name": "c_pts"}, "mark": {"type": "point", "shape": "circle", "size": 22, "strokeWidth": 1, "fill": "white", "fillOpacity": 1, "opacity": 1},
      "encoding": {"x": {"field": "cat", "type": "nominal"}, "xOffset": {"field": "j", "type": "nominal", "scale": {"paddingOuter": 0.3}}, "y": {"field": "v", "type": "quantitative"},
                   "stroke": {"field": "cat", "type": "nominal", "scale": {"domain": ["mACh", "mGlul", "5-HT₂ᴀ/ᴄ", "α₁", "bradykinin", "D₁-like", "H₁", "P2Y₁"], "range": ["black", "#1c1c80", "black", "black", "black", "black", "black", "black"]}, "legend": null}}},
     {"data": {"name": "c_n"}, "mark": {"type": "text", "fontSize": 17, "baseline": "alphabetic"},
      "encoding": {"x": {"field": "cat", "type": "nominal"}, "y": {"field": "v", "type": "quantitative"}, "text": {"field": "n"}}}
    ]}
 ], "spacing": 535, "bounds": "flush", "resolve": {"scale": {"color": "independent", "stroke": "independent"}, "legend": {"color": "independent", "stroke": "independent"}}},
 {"vconcat": [
   {"hconcat": [
     {"hconcat": [
       {"title": {"text": "d"}, "width": 129, "height": 198,
        "layer": [
         {"data": {"name": "d1_tr"}, "mark": {"type": "line", "color": "#9c2fc9", "strokeWidth": 1.5},
          "encoding": {"x": {"field": "t", "type": "quantitative", "scale": {"domain": [-53, 128], "nice": false, "zero": false}, "axis": {"values": [-50, 0, 50, 100], "tickCount": 40, "title": null, "domain": false}},
                       "y": {"field": "v", "type": "quantitative", "scale": {"domain": [0.775, 2.0], "nice": false, "zero": false}, "axis": {"values": [0.8, 1.0, 1.2, 1.4, 1.6, 1.8, 2.0], "tickCount": 40, "format": ".1f", "title": "tubbyᴄᴛ-GFP F/F₀"}}}},
         {"data": {"name": "d1_ax"}, "mark": {"type": "rule", "color": "black", "strokeWidth": 1.5},
          "encoding": {"x": {"field": "t1", "type": "quantitative"}, "x2": {"field": "t2"}, "y": {"field": "v", "type": "quantitative"}}},
         {"data": {"name": "d1_ax"}, "mark": {"type": "rule", "color": "black", "strokeWidth": 1.5, "strokeDash": [1.5, 3]},
          "encoding": {"x": {"field": "t2", "type": "quantitative"}, "x2": {"field": "t3"}, "y": {"field": "v", "type": "quantitative"}}},
         {"data": {"name": "d1_bar"}, "mark": {"type": "rule", "color": "#9c2fc9", "strokeWidth": 4},
          "encoding": {"x": {"field": "t1", "type": "quantitative"}, "x2": {"field": "t2"}, "y": {"field": "v", "type": "quantitative"}}},
         {"data": {"name": "d1_lab"}, "mark": {"type": "text", "align": "left", "baseline": "alphabetic", "fontSize": 18},
          "encoding": {"x": {"field": "t", "type": "quantitative"}, "y": {"field": "v", "type": "quantitative"}, "text": {"field": "s"}}}
        ]},
       {"width": 254, "height": 198,
        "layer": [
         {"data": {"name": "d2_tr"}, "mark": {"type": "line", "color": "black", "strokeWidth": 1.5},
          "encoding": {"x": {"field": "t", "type": "quantitative", "scale": {"domain": [-55, 300], "nice": false, "zero": false}, "axis": {"values": [0, 100, 200, 300], "tickCount": 40, "title": "Time (s)", "titleX": 33, "titleAlign": "center"}},
                       "y": {"field": "v", "type": "quantitative", "scale": {"domain": [0.775, 2.0], "nice": false, "zero": false}, "axis": null}}},
         {"data": {"name": "d2_bar"}, "mark": {"type": "rule", "color": "black", "strokeWidth": 4},
          "encoding": {"x": {"field": "t1", "type": "quantitative"}, "x2": {"field": "t2"}, "y": {"field": "v", "type": "quantitative"}}},
         {"data": {"name": "d2_lab"}, "mark": {"type": "text", "align": "left", "baseline": "alphabetic", "fontSize": 18},
          "encoding": {"x": {"field": "t", "type": "quantitative"}, "y": {"field": "v", "type": "quantitative"}, "text": {"field": "s"}}}
        ]}
     ], "spacing": 0, "bounds": "flush"},
     {"title": {"text": "e"}, "width": 75, "height": 191,
      "layer": [
       {"data": {"name": "e_bar"}, "mark": {"type": "bar"},
        "encoding": {"x": {"field": "cond", "type": "nominal", "sort": null, "scale": {"domain": ["OxoM 10μM", "DHPG 10μM", "DHPG 100μM"], "paddingInner": 0.1, "paddingOuter": 0.05},
                           "axis": {"title": null, "labelAngle": -60, "labelAlign": "right", "labelBaseline": "middle", "tickBand": "extent", "labelFontSize": 17, "labelPadding": 3}},
                     "y": {"field": "m", "type": "quantitative", "scale": {"domain": [1.0, 2.2], "nice": false, "zero": false}, "axis": {"values": [1.0, 1.2, 1.4, 1.6, 1.8, 2.0, 2.2], "tickCount": 40, "format": ".1f", "title": "tubbyᴄᴛ-GFP F/F₀"}},
                     "y2": {"datum": 1.0},
                     "color": {"field": "cond", "type": "nominal", "scale": {"domain": ["OxoM 10μM", "DHPG 10μM", "DHPG 100μM"], "range": ["black", "#1a1ae6", "#0c0c7c"]}, "legend": null}}},
       {"data": {"name": "e_bar"}, "mark": {"type": "rule", "color": "black", "strokeWidth": 1.5},
        "encoding": {"x": {"field": "cond", "type": "nominal"}, "y": {"field": "m", "type": "quantitative"}, "y2": {"field": "hi"}}},
       {"data": {"name": "e_bar"}, "mark": {"type": "tick", "color": "black", "thickness": 1.5, "size": 10},
        "encoding": {"x": {"field": "cond", "type": "nominal"}, "y": {"field": "hi", "type": "quantitative"}}},
       {"data": {"name": "e_cells"}, "mark": {"type": "line", "color": "#8c8c8c", "strokeWidth": 2},
        "encoding": {"x": {"field": "cond", "type": "nominal"}, "y": {"field": "v", "type": "quantitative"}, "detail": {"field": "cell"}, "order": {"field": "k", "type": "quantitative"}}},
       {"data": {"name": "e_cells"}, "mark": {"type": "point", "filled": true, "color": "#8c8c8c", "size": 45, "opacity": 1},
        "encoding": {"x": {"field": "cond", "type": "nominal"}, "y": {"field": "v", "type": "quantitative"},
                     "shape": {"field": "cell", "type": "nominal", "scale": {"domain": ["c1", "c2", "c3", "c4", "c5", "c6"], "range": ["diamond", "square", "circle", "triangle-up", "triangle-down", "cross"]}, "legend": null}}}
      ]}
   ], "spacing": 535, "bounds": "flush", "resolve": {"scale": {"color": "independent", "shape": "independent"}, "legend": {"color": "independent", "shape": "independent"}}},
   {"vconcat": [
     {"hconcat": [
       {"title": {"text": "f"}, "width": 252, "height": 198,
        "layer": [
         {"data": {"name": "f_oxo"}, "mark": {"type": "errorband", "color": "#8a8a8a", "band": {"opacity": 1}},
          "encoding": {"x": {"field": "t", "type": "quantitative", "title": "Time (s)", "scale": {"domain": [-52.5, 300], "nice": false, "zero": false}, "axis": {"values": [-50, 0, 50, 100, 150, 200, 250, 300], "tickCount": 40, "labelExpr": "datum.value % 100 === 0 ? datum.label : ''"}},
                       "y": {"field": "m", "type": "quantitative", "title": "PLCδ1-PH-GFP F/F₀", "scale": {"domain": [0.687, 2.0], "nice": false, "zero": false}, "axis": {"values": [0.8, 1.0, 1.2, 1.4, 1.6, 1.8, 2.0], "tickCount": 40, "format": ".1f"}},
                       "yError": {"field": "e"}}},
         {"data": {"name": "f_oxo"}, "mark": {"type": "errorbar", "color": "#8a8a8a", "thickness": 1, "ticks": {"size": 4}},
          "encoding": {"x": {"field": "t", "type": "quantitative", "title": "Time (s)"}, "y": {"field": "m", "type": "quantitative", "title": "PLCδ1-PH-GFP F/F₀"}, "yError": {"field": "e"}}},
         {"data": {"name": "f_oxo"}, "mark": {"type": "line", "strokeWidth": 1.5},
          "encoding": {"x": {"field": "t", "type": "quantitative", "title": "Time (s)"}, "y": {"field": "m", "type": "quantitative", "title": "PLCδ1-PH-GFP F/F₀"},
                       "color": {"datum": "Oxo-M", "type": "nominal", "scale": {"domain": ["Oxo-M", "DHPG"], "range": ["black", "#1a1ae6"]},
                                 "legend": {"orient": "none", "legendX": 34, "legendY": 4, "title": null, "rowPadding": 0, "labelOffset": 12, "symbolSize": 500, "symbolStrokeWidth": 4, "symbolType": "stroke", "labelFontSize": 18}}}},
         {"data": {"name": "f_dhpg"}, "mark": {"type": "errorband", "color": "#3aa8d8", "band": {"opacity": 1}},
          "encoding": {"x": {"field": "t", "type": "quantitative", "title": "Time (s)"}, "y": {"field": "m", "type": "quantitative", "title": "PLCδ1-PH-GFP F/F₀"}, "yError": {"field": "e"}}},
         {"data": {"name": "f_dhpg"}, "mark": {"type": "errorbar", "color": "#3aa8d8", "thickness": 1, "ticks": {"size": 4}},
          "encoding": {"x": {"field": "t", "type": "quantitative", "title": "Time (s)"}, "y": {"field": "m", "type": "quantitative", "title": "PLCδ1-PH-GFP F/F₀"}, "yError": {"field": "e"}}},
         {"data": {"name": "f_dhpg"}, "mark": {"type": "line", "strokeWidth": 3},
          "encoding": {"x": {"field": "t", "type": "quantitative", "title": "Time (s)"}, "y": {"field": "m", "type": "quantitative", "title": "PLCδ1-PH-GFP F/F₀"}, "color": {"datum": "DHPG", "type": "nominal"}}}
        ]},
       {"title": {"text": "g"}, "width": 184, "height": 207,
        "layer": [
         {"data": {"name": "g_bar"}, "mark": {"type": "bar"},
          "encoding": {"x": {"field": "cat", "type": "nominal", "sort": null, "scale": {"domain": ["mACh", "mGlul", "5-HT₂ᴀ/ᴄ", "α₁", "bradykinin", "D₁-like", "H₁", "P2Y₁"], "paddingInner": 0.08, "paddingOuter": 0.04},
                             "axis": {"title": null, "labelAngle": -60, "labelAlign": "right", "labelBaseline": "middle", "tickBand": "extent", "labelFontSize": 17, "labelPadding": 3}},
                       "y": {"field": "m", "type": "quantitative", "scale": {"domain": [1.0, 2.6], "nice": false, "zero": false}, "axis": {"values": [1.0, 1.2, 1.4, 1.6, 1.8, 2.0, 2.2, 2.4, 2.6], "tickCount": 40, "format": ".1f", "title": "PLCδ1-PH-GFP F/F₀"}},
                       "y2": {"datum": 1.0},
                       "color": {"field": "cat", "type": "nominal", "scale": {"domain": ["mACh", "mGlul", "5-HT₂ᴀ/ᴄ", "α₁", "bradykinin", "D₁-like", "H₁", "P2Y₁"], "range": ["black", "#1a1ae6", "#9c2fc9", "#9c2fc9", "#9c2fc9", "#9c2fc9", "#9c2fc9", "#9c2fc9"]}, "legend": null}}},
         {"data": {"name": "g_bar"}, "mark": {"type": "rule", "color": "black", "strokeWidth": 1.5},
          "encoding": {"x": {"field": "cat", "type": "nominal"}, "y": {"field": "m", "type": "quantitative"}, "y2": {"field": "hi"}}},
         {"data": {"name": "g_bar"}, "mark": {"type": "tick", "color": "black", "thickness": 1.5, "size": 10},
          "encoding": {"x": {"field": "cat", "type": "nominal"}, "y": {"field": "hi", "type": "quantitative"}}},
         {"data": {"name": "g_pts"}, "mark": {"type": "point", "shape": "circle", "size": 22, "strokeWidth": 1, "fill": "white", "fillOpacity": 1, "opacity": 1},
          "encoding": {"x": {"field": "cat", "type": "nominal"}, "xOffset": {"field": "j", "type": "nominal", "scale": {"paddingOuter": 0.3}}, "y": {"field": "v", "type": "quantitative"},
                       "stroke": {"field": "cat", "type": "nominal", "scale": {"domain": ["mACh", "mGlul", "5-HT₂ᴀ/ᴄ", "α₁", "bradykinin", "D₁-like", "H₁", "P2Y₁"], "range": ["black", "#1c1c80", "black", "black", "black", "black", "black", "black"]}, "legend": null}}},
         {"data": {"name": "g_n"}, "mark": {"type": "text", "fontSize": 17, "baseline": "alphabetic"},
          "encoding": {"x": {"field": "cat", "type": "nominal"}, "y": {"field": "v", "type": "quantitative"}, "text": {"field": "n"}}}
        ]}
     ], "spacing": 105, "bounds": "flush", "resolve": {"scale": {"color": "independent", "stroke": "independent"}, "legend": {"color": "independent", "stroke": "independent"}}},
     {"hconcat": [
       {"title": {"text": "h"}, "width": 239, "height": 195,
        "layer": [
         {"data": {"name": "h_light"}, "mark": {"type": "line", "color": "#6fa6ee", "strokeWidth": 2},
          "encoding": {"x": {"field": "t", "type": "quantitative", "scale": {"domain": [-51.3, 100], "nice": false, "zero": false}, "axis": {"values": [-50, 0, 50, 100], "tickCount": 40, "title": "Time (s)"}},
                       "y": {"field": "v", "type": "quantitative", "scale": {"domain": [0.7, 2.0], "nice": false, "zero": false}, "axis": {"values": [0.8, 1.0, 1.2, 1.4, 1.6, 1.8, 2.0], "tickCount": 40, "format": ".1f", "title": "tubbyᴄᴛ-GFP F/F₀"}}}},
         {"data": {"name": "h_dark"}, "mark": {"type": "line", "color": "#1414c8", "strokeWidth": 2},
          "encoding": {"x": {"field": "t", "type": "quantitative"}, "y": {"field": "v", "type": "quantitative"}}},
         {"data": {"name": "h_bar_light"}, "mark": {"type": "rule", "color": "#6fa6ee", "strokeWidth": 4},
          "encoding": {"x": {"field": "t1", "type": "quantitative"}, "x2": {"field": "t2"}, "y": {"field": "v", "type": "quantitative"}}},
         {"data": {"name": "h_bar_dark"}, "mark": {"type": "rule", "color": "#1414c8", "strokeWidth": 4},
          "encoding": {"x": {"field": "t1", "type": "quantitative"}, "x2": {"field": "t2"}, "y": {"field": "v", "type": "quantitative"}}},
         {"data": {"name": "h_lab"}, "mark": {"type": "text", "align": "left", "baseline": "alphabetic", "fontSize": 18},
          "encoding": {"x": {"field": "t", "type": "quantitative"}, "y": {"field": "v", "type": "quantitative"}, "text": {"field": "s"}}}
        ]},
       {"title": {"text": "i"}, "width": 170, "height": 170,
        "layer": [
         {"data": {"name": "i_cells"}, "mark": {"type": "line", "color": "#8ec5ea", "strokeWidth": 1.5},
          "encoding": {"x": {"field": "app", "type": "quantitative", "title": "No. of applications", "scale": {"domain": [0.6, 6.3], "nice": false, "zero": false}, "axis": {"values": [1, 2, 3, 4, 5, 6], "tickCount": 40, "format": "d"}},
                       "y": {"field": "v", "type": "quantitative", "title": "tubbyᴄᴛ-GFP F/F₀", "scale": {"domain": [0.95, 2.0], "nice": false, "zero": false}, "axis": {"values": [1.0, 1.2, 1.4, 1.6, 1.8, 2.0], "tickCount": 40, "format": ".1f"}},
                       "detail": {"field": "cell"}}},
         {"data": {"name": "i_cells"}, "mark": {"type": "point", "filled": true, "color": "#8ec5ea", "size": 40, "opacity": 1},
          "encoding": {"x": {"field": "app", "type": "quantitative", "title": "No. of applications"}, "y": {"field": "v", "type": "quantitative", "title": "tubbyᴄᴛ-GFP F/F₀"},
                       "shape": {"field": "cell", "type": "nominal", "scale": {"domain": ["k1", "k2", "k3", "k4", "k5", "k6", "k7", "k8", "k9"], "range": ["triangle-down", "circle", "circle", "triangle-up", "triangle-down", "square", "circle", "triangle-up", "square"]}, "legend": null}}},
         {"data": {"name": "i_mean"}, "mark": {"type": "errorbar", "color": "#1a1ae6", "thickness": 2.5, "ticks": {"size": 9}},
          "encoding": {"x": {"field": "app", "type": "quantitative", "title": "No. of applications"}, "y": {"field": "m", "type": "quantitative", "title": "tubbyᴄᴛ-GFP F/F₀"}, "yError": {"field": "e"}}},
         {"data": {"name": "i_mean"}, "mark": {"type": "point", "filled": true, "shape": "square", "color": "#1a1ae6", "size": 30, "opacity": 1},
          "encoding": {"x": {"field": "app", "type": "quantitative", "title": "No. of applications"}, "y": {"field": "m", "type": "quantitative", "title": "tubbyᴄᴛ-GFP F/F₀"}}}
        ]}
     ], "spacing": 125, "bounds": "flush", "resolve": {"scale": {"shape": "independent"}, "legend": {"shape": "independent"}}}
   ], "spacing": 313, "bounds": "flush", "resolve": {"scale": {"color": "independent", "stroke": "independent", "shape": "independent"}, "legend": {"color": "independent", "stroke": "independent", "shape": "independent"}}}
 ], "spacing": 271, "bounds": "flush", "resolve": {"scale": {"color": "independent", "stroke": "independent", "shape": "independent"}, "legend": {"color": "independent", "stroke": "independent", "shape": "independent"}}}
]
}
